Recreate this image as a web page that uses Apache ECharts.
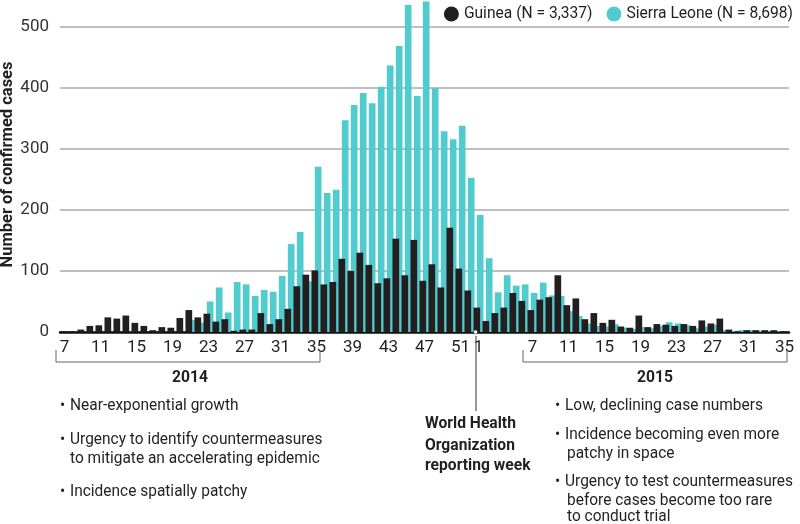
<!DOCTYPE html>
<html>
<head>
<meta charset="utf-8">
<script src="https://cdn.jsdelivr.net/npm/echarts@6/dist/echarts.min.js"></script>
<style>
  html, body { margin: 0; padding: 0; background: #fff; }
  #chart { width: 800px; height: 524px; }
</style>
</head>
<body>
<div id="chart"></div>
<script>
// WHO reporting weeks
const weeks2014 = [7, 8, 9, 10, 11, 12, 13, 14, 15, 16, 17, 18, 19, 20, 21, 22, 23, 24, 25, 26,
    27, 28, 29, 30, 31, 32, 33, 34, 35, 36, 37, 38, 39, 40, 41, 42, 43, 44, 45, 46, 47, 48, 49, 50, 51, 52]
const weeks2015 = [1, 2, 3, 4, 5, 6, 7, 8, 9, 10, 11, 12, 13, 14, 15, 16, 17, 18, 19, 20,
    21, 22, 23, 24, 25, 26, 27, 28, 29, 30, 31, 32, 33, 34, 35]

// confirmed cases per week
const guinea2014 = [1, 1, 4, 10, 11, 24, 22, 27, 15, 10, 3, 8, 7, 23, 36, 24, 30, 17, 21, 2,
    4, 4, 31, 13, 21, 38, 75, 94, 101, 78, 82, 120, 100, 130, 110, 80, 88, 153, 93, 151, 84, 111, 73, 171, 104, 68]
const guinea2015 = [40, 18, 31, 40, 64, 51, 36, 53, 57, 93, 44, 55, 21, 31, 15, 20, 9, 7, 27, 8,
    13, 12, 10, 13, 10, 19, 14, 22, 4, 1, 3, 3, 3, 3, 1]
const sierraLeone2014 = [0, 0, 0, 0, 0, 0, 0, 0, 0, 0, 0, 0, 0, 0, 20, 15, 50, 73, 32, 82,
    78, 59, 69, 66, 92, 144, 164, 83, 271, 228, 233, 347, 372, 392, 375, 402, 437, 469, 536, 387, 542, 400, 329, 316, 338, 253]
const sierraLeone2015 = [192, 121, 65, 93, 76, 78, 64, 81, 60, 59, 34, 26, 14, 10, 9, 13, 7, 5, 8, 6,
    10, 16, 14, 11, 6, 9, 12, 3, 2, 3, 3, 2, 1, 1, 0]

// week labels shown under the axis
const shownLabels = ['2014-7', '2014-11', '2014-15', '2014-19', '2014-23', '2014-27', '2014-31', '2014-35',
    '2014-39', '2014-43', '2014-47', '2014-51', '2015-1', '2015-7', '2015-11', '2015-15', '2015-19',
    '2015-23', '2015-27', '2015-31', '2015-35']

const categories = weeks2014.map(w => '2014-' + w).concat(weeks2015.map(w => '2015-' + w))
const guinea = guinea2014.concat(guinea2015)
const sierraLeone = sierraLeone2014.concat(sierraLeone2015)

const FONT = 'Roboto, "Liberation Sans", sans-serif'
const TXT = '#231f20'

// condensed look: squeeze the text horizontally around its anchor
const txt = (text, x, y, sx) => ({
    type: 'text',
    x: x,
    y: y,
    scaleX: sx || 0.91,
    style: {
        text: text, x: 0, y: 0,
        fontFamily: FONT, fontSize: 17, fill: TXT,
        align: 'left', verticalAlign: 'middle'
    },
    z: 10
})

const bold = (text, x, y, align) => {
    const t = txt(text, x, y, 0.92)
    t.style.fontWeight = 'bold'
    t.style.align = align || 'left'
    return t
}

const chart = echarts.init(document.getElementById('chart'), null, { renderer: 'canvas' })

const option = {
    animation: false,
    grid: { left: 60, right: 11, top: 27, bottom: 192, containLabel: false, outerBoundsMode: 'none' },
    legend: {
        right: 2,
        top: 1,
        icon: 'circle',
        itemWidth: 15,
        itemHeight: 15,
        itemGap: 14,
        textStyle: { fontFamily: FONT, fontSize: 15.6, color: TXT },
        data: ['Guinea (N = 3,337)', 'Sierra Leone (N = 8,698)']
    },
    xAxis: {
        type: 'category',
        data: categories,
        axisLine: { lineStyle: { color: '#111', width: 2.5 } },
        axisTick: { show: false },
        axisLabel: {
            interval: (idx, val) => shownLabels.includes(val),
            formatter: val => val.split('-')[1],
            fontFamily: FONT,
            fontSize: 17,
            color: TXT,
            margin: 7
        }
    },
    yAxis: {
        type: 'value',
        min: 0,
        max: 500,
        interval: 100,
        name: 'Number of confirmed cases',
        nameLocation: 'middle',
        nameGap: 44,
        nameMoveOverlap: false,
        nameTextStyle: { fontFamily: FONT, fontSize: 16.5, fontWeight: 'bold', color: TXT, padding: [0, 0, 0, 30] },
        axisLine: { show: false },
        axisTick: { show: false },
        axisLabel: { fontFamily: FONT, fontSize: 17, color: '#333', margin: 11 },
        splitLine: { lineStyle: { color: '#aaa', width: 1.5 } }
    },
    series: [
        {
            name: 'Guinea (N = 3,337)',
            type: 'bar',
            data: guinea,
            barWidth: 6.7,
            barGap: '-50%',
            clip: false,
            z: 4,
            itemStyle: { color: '#231f20' }
        },
        {
            name: 'Sierra Leone (N = 8,698)',
            type: 'bar',
            data: sierraLeone,
            barWidth: 6.7,
            barGap: '-50%',
            clip: false,
            z: 3,
            itemStyle: { color: '#52cbce' }
        }
    ],
    graphic: [
        // year brackets
        { type: 'polyline', shape: { points: [[56, 350], [56, 362], [320, 362], [320, 350]] },
          style: { stroke: '#666', lineWidth: 1, fill: null }, z: 10 },
        { type: 'polyline', shape: { points: [[523, 350], [523, 362], [787, 362], [787, 350]] },
          style: { stroke: '#666', lineWidth: 1, fill: null }, z: 10 },
        bold('2014', 190, 378, 'center'),
        bold('2015', 655, 378, 'center'),
        // WHO reporting week pointer
        { type: 'line', shape: { x1: 476, y1: 336, x2: 476, y2: 411 },
          style: { stroke: '#333', lineWidth: 1 }, z: 10 },
        { type: 'circle', shape: { cx: 475.5, cy: 332, r: 2 },
          style: { fill: '#fff', stroke: '#333', lineWidth: 0.5 }, z: 20 },
        bold('World Health', 425, 424),
        bold('Organization', 425, 446),
        bold('reporting week', 425, 466),
        // 2014 notes
        txt('•', 60, 406), txt('Near-exponential growth', 70, 406),
        txt('•', 60, 440), txt('Urgency to identify countermeasures', 70, 440),
        txt('to mitigate an accelerating epidemic', 70, 459),
        txt('•', 60, 492), txt('Incidence spatially patchy', 70, 492),
        // 2015 notes
        txt('•', 555, 406), txt('Low, declining case numbers', 565, 406),
        txt('•', 555, 435), txt('Incidence becoming even more', 565, 435),
        txt('patchy in space', 567, 454),
        txt('•', 555, 482), txt('Urgency to test countermeasures', 565, 482),
        txt('before cases become too rare', 567, 501),
        txt('to conduct trial', 567, 517)
    ]
}

chart.setOption(option)
</script>
</body>
</html>
